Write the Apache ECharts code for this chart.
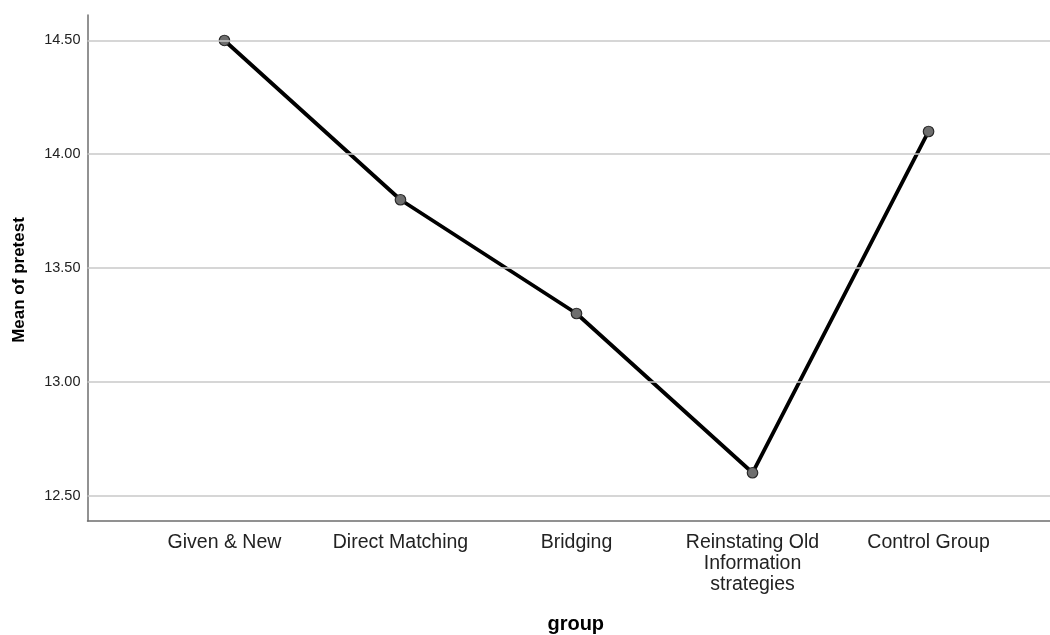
<!DOCTYPE html>
<html>
<head>
<meta charset="utf-8">
<script src="https://cdn.jsdelivr.net/npm/echarts@6/dist/echarts.min.js"></script>
<style>
html,body{margin:0;padding:0;background:#fff;}
#chart{width:1050px;height:635px;}
</style>
</head>
<body>
<div id="chart"></div>
<script>
const categories = ['Given & New', 'Direct Matching', 'Bridging', 'Reinstating Old\nInformation\nstrategies', 'Control Group'];
const meanPretest = [14.50, 13.80, 13.30, 12.60, 14.10];
const yTicks = [12.5, 13.0, 13.5, 14.0, 14.5];
const xName = 'group';
const yName = 'Mean of pretest';

const FONT = "'Liberation Sans', Arial, sans-serif";
const chart = echarts.init(document.getElementById('chart'), null, {renderer: 'canvas'});
const catIdx = categories.map((c, i) => i);

chart.setOption({
  animation: false,
  backgroundColor: '#ffffff',
  grid: {left: 87.5, right: 0, top: 15, bottom: 114, containLabel: false, outerBoundsMode: 'none'},
  xAxis: {
    type: 'value',
    min: -0.778,
    max: 4.69,
    name: xName,
    nameLocation: 'middle',
    nameGap: 93,
    nameTextStyle: {fontFamily: FONT, fontSize: 20, fontWeight: 'bold', color: '#000', lineHeight: 20, padding: [0, 0, 0, 14]},
    axisLine: {show: true, onZero: false, lineStyle: {color: '#6e6e6e', width: 1.5}},
    axisTick: {show: false},
    splitLine: {show: false},
    axisLabel: {
      customValues: catIdx,
      formatter: v => categories[Math.round(v)] || '',
      fontFamily: FONT, fontSize: 19.5, lineHeight: 21, color: '#222', margin: 11, align: 'center'
    }
  },
  yAxis: {
    type: 'value',
    min: 12.388,
    max: 14.612,
    name: yName,
    nameLocation: 'middle',
    nameGap: 60,
    nameRotate: 90,
    nameTextStyle: {fontFamily: FONT, fontSize: 17, fontWeight: 'bold', color: '#000', lineHeight: 17, padding: [0, 24, 0, 0]},
    axisLine: {show: true, onZero: false, lineStyle: {color: '#6e6e6e', width: 1.5}},
    axisTick: {show: false},
    splitLine: {show: false},
    axisLabel: {
      customValues: yTicks,
      formatter: v => v.toFixed(2),
      fontFamily: FONT, fontSize: 14.5, color: '#222', margin: 7
    }
  },
  series: [
    {
      type: 'line',
      data: [],
      z: 1,
      silent: true,
      markLine: {
        silent: true,
        symbol: ['none', 'none'],
        label: {show: false},
        lineStyle: {color: '#c8c8c8', width: 1.5, type: 'solid'},
        emphasis: {disabled: true},
        data: yTicks.map(v => ({yAxis: v}))
      }
    },
    {
      type: 'line',
      z: 3,
      data: catIdx.map(i => [i, meanPretest[i]]),
      symbol: 'circle',
      symbolSize: 10.5,
      showAllSymbol: true,
      lineStyle: {color: '#000', width: 3.8},
      itemStyle: {color: '#6e6e6e', borderColor: '#2a2a2a', borderWidth: 1.2},
      emphasis: {disabled: true}
    }
  ]
});
</script>
</body>
</html>
